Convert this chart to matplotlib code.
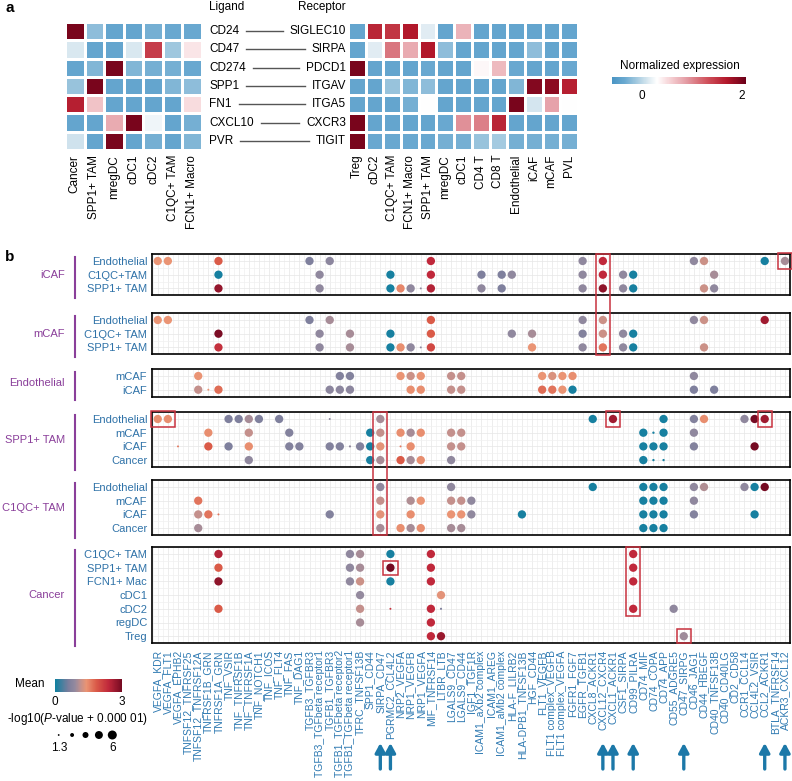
import matplotlib
matplotlib.use('Agg')
import matplotlib.pyplot as plt
import matplotlib.transforms as mtransforms
import numpy as np
from matplotlib.colors import LinearSegmentedColormap, Normalize
from matplotlib.cm import ScalarMappable
from matplotlib.patches import Rectangle
from matplotlib.lines import Line2D

plt.rcParams['font.family'] = 'Liberation Sans'
plt.rcParams['mathtext.fontset'] = 'custom'
plt.rcParams['mathtext.rm'] = 'Liberation Sans'
plt.rcParams['mathtext.it'] = 'Liberation Sans:italic'

W, H = 792, 781

# ---------------- panel a data ----------------
ligands = ['CD24', 'CD47', 'CD274', 'SPP1', 'FN1', 'CXCL10', 'PVR']
receptors = ['SIGLEC10', 'SIRPA', 'PDCD1', 'ITGAV', 'ITGA5', 'CXCR3', 'TIGIT']
ligand_cells = ['Cancer', 'SPP1+ TAM', 'mregDC', 'cDC1', 'cDC2', 'C1QC+ TAM', 'FCN1+ Macro']
receptor_cells = ['Treg', 'cDC2', 'C1QC+ TAM', 'FCN1+ Macro', 'SPP1+ TAM', 'mregDC', 'cDC1',
                  'CD4 T', 'CD8 T', 'Endothelial', 'iCAF', 'mCAF', 'PVL']

ligand_expr = [
    [2.0, -0.2, -0.4, -0.4, -0.3, -0.35, -0.35],
    [0.12, -0.4, -0.4, 0.12, 1.45, -0.12, 0.45],
    [-0.4, -0.25, 2.0, -0.25, -0.3, -0.3, -0.35],
    [-0.15, 2.0, -0.4, -0.4, -0.4, -0.25, -0.2],
    [1.65, 0.65, -0.4, -0.4, -0.4, -0.4, 0.5],
    [-0.4, -0.4, 0.8, 2.0, 0.22, -0.4, -0.3],
    [0.08, -0.4, 2.0, -0.4, -0.3, -0.4, -0.25],
]
receptor_expr = [
    [-0.4, 1.6, 1.5, 1.7, 0.15, -0.4, 0.75, -0.4, -0.4, -0.4, -0.4, -0.4, -0.4],
    [-0.4, 0.15, 1.1, 0.8, 1.7, -0.2, -0.4, -0.4, -0.4, -0.4, -0.2, -0.4, -0.4],
    [2.0, -0.4, -0.4, -0.4, -0.35, -0.4, -0.4, 0.35, 0.7, -0.35, -0.4, -0.4, -0.35],
    [-0.4, -0.4, -0.15, -0.25, -0.2, -0.4, -0.4, -0.4, -0.4, -0.25, 1.95, 1.9, 1.65],
    [-0.4, -0.4, -0.4, -0.3, 0.3, -0.4, -0.4, -0.4, -0.4, 2.0, 0.1, 0.85, 0.3],
    [2.0, -0.4, -0.4, -0.4, -0.4, -0.35, 0.95, 1.05, 1.6, -0.4, -0.4, -0.4, -0.4],
    [2.0, -0.35, -0.35, -0.35, -0.35, -0.3, -0.3, -0.15, -0.1, -0.3, -0.3, -0.3, -0.3],
]

# ---------------- panel b data ----------------
pairs = ['VEGFA_KDR', 'VEGFA_FLT1', 'VEGFA_EPHB2', 'TNFSF12_TNFRSF25', 'TNFSF12_TNFRSF12A',
         'TNFRSF1B_GRN', 'TNFRSF1A_GRN', 'TNF_VSIR', 'TNF_TNFRSF1B', 'TNF_TNFRSF1A', 'TNF_NOTCH1',
         'TNF_ICOS', 'TNF_FLT4', 'TNF_FAS', 'TNF_DAG1', 'TGFB3_TGFBR3', 'TGFB3_TGFbeta receptor1',
         'TGFB1_TGFBR3', 'TGFB1_TGFbeta receptor2', 'TGFB1_TGFbeta receptor1', 'TFRC_TNFSF13B',
         'SPP1_CD44', 'SIRPA_CD47', 'PGRMC2_CCL4L2', 'NRP2_VEGFA', 'NRP1_VEGFB', 'NRP1_VEGFA',
         'MIF_TNFRSF14', 'LTBR_LTB', 'LGALS9_CD47', 'LGALS9_CD44', 'IGF1_TGF1R', 'ICAM1_aXb2 complex',
         'ICAM1_AREG', 'ICAM1_aMb2 complex', 'HLA-F_LILRB2', 'HLA-DPB1_TNFSF13B', 'HGF_CD44',
         'FLT1_VEGFB', 'FLT1 complex_VEGFB', 'FLT1 complex_VEGFA', 'FGFR1_FGF7', 'EGFR_TGFB1',
         'CXCL8_ACKR1', 'CXCL12_CXCR4', 'CXCL1_ACKR1', 'CSF1_SIRPA', 'CD99_PILRA', 'CD74_MIF',
         'CD74_COPA', 'CD74_APP', 'CD55_ADGRE5', 'CD47_SIRPG', 'CD46_JAG1', 'CD44_HBEGF',
         'CD40_TNFSF13B', 'CD40_CD40LG', 'CD2_CD58', 'CCR1_CCL14', 'CCL4L2_VSIR', 'CCL2_ACKR1',
         'BTLA_TNFRSF14', 'ACKR3_CXCL12']

groups = ['iCAF', 'mCAF', 'Endothelial', 'SPP1+ TAM', 'C1QC+ TAM', 'Cancer']
group_rows = {
    'iCAF': ['Endothelial', 'C1QC+TAM', 'SPP1+ TAM'],
    'mCAF': ['Endothelial', 'C1QC+ TAM', 'SPP1+ TAM'],
    'Endothelial': ['mCAF', 'iCAF'],
    'SPP1+ TAM': ['Endothelial', 'mCAF', 'iCAF', 'Cancer'],
    'C1QC+ TAM': ['Endothelial', 'mCAF', 'iCAF', 'Cancer'],
    'Cancer': ['C1QC+ TAM', 'SPP1+ TAM', 'FCN1+ Mac', 'cDC1', 'cDC2', 'regDC', 'Treg'],
}

# (pair, mean, -log10(P + 1e-5)) per receiving row
dots = {
    'iCAF': {
        'Endothelial': [('VEGFA_KDR', 1.4, 5), ('VEGFA_FLT1', 1.4, 5), ('TNFRSF1A_GRN', 1.85, 5),
                        ('TGFB3_TGFBR3', 0.65, 5), ('TGFB1_TGFBR3', 0.8, 5), ('MIF_TNFRSF14', 2.4, 5),
                        ('EGFR_TGFB1', 0.85, 5), ('CXCL12_CXCR4', 2.4, 5), ('CD46_JAG1', 0.85, 5),
                        ('CD44_HBEGF', 1.2, 5), ('CCL2_ACKR1', 0.05, 5), ('ACKR3_CXCL12', 1.0, 5)],
        'C1QC+TAM': [('TNFRSF1A_GRN', 0.05, 5), ('TGFB3_TGFbeta receptor1', 0.85, 5),
                     ('PGRMC2_CCL4L2', 0.05, 5), ('MIF_TNFRSF14', 2.4, 5), ('ICAM1_aXb2 complex', 0.65, 5),
                     ('ICAM1_aMb2 complex', 0.65, 5), ('HLA-F_LILRB2', 0.85, 5), ('EGFR_TGFB1', 0.85, 5),
                     ('CXCL12_CXCR4', 2.4, 5), ('CSF1_SIRPA', 0.85, 5), ('CD99_PILRA', 0.05, 5),
                     ('CD40_TNFSF13B', 1.0, 5)],
        'SPP1+ TAM': [('TNFRSF1A_GRN', 2.75, 5), ('TGFB3_TGFbeta receptor1', 0.85, 5),
                      ('PGRMC2_CCL4L2', 0.05, 5), ('NRP2_VEGFA', 1.5, 5), ('NRP1_VEGFB', 0.85, 5),
                      ('NRP1_VEGFA', 0.85, 1.4), ('MIF_TNFRSF14', 2.5, 5), ('ICAM1_aXb2 complex', 0.85, 5),
                      ('ICAM1_aMb2 complex', 0.65, 5), ('EGFR_TGFB1', 0.85, 5), ('CXCL12_CXCR4', 2.8, 5),
                      ('CSF1_SIRPA', 0.85, 5), ('CD99_PILRA', 0.05, 5), ('CD44_HBEGF', 1.2, 5),
                      ('CD40_TNFSF13B', 0.85, 5)],
    },
    'mCAF': {
        'Endothelial': [('VEGFA_KDR', 1.4, 5), ('VEGFA_FLT1', 1.4, 5), ('TGFB3_TGFBR3', 0.65, 5),
                        ('TGFB1_TGFBR3', 1.0, 5), ('MIF_TNFRSF14', 1.85, 5), ('EGFR_TGFB1', 0.85, 5),
                        ('CXCL12_CXCR4', 1.2, 5), ('CD46_JAG1', 0.85, 5), ('CD44_HBEGF', 1.2, 5),
                        ('CCL2_ACKR1', 2.65, 5)],
        'C1QC+ TAM': [('TNFRSF1A_GRN', 2.95, 5), ('TGFB3_TGFbeta receptor1', 0.85, 5),
                      ('TGFB1_TGFbeta receptor1', 1.0, 5), ('PGRMC2_CCL4L2', 0.05, 5),
                      ('MIF_TNFRSF14', 1.85, 5), ('HLA-F_LILRB2', 0.85, 5), ('HGF_CD44', 1.0, 5),
                      ('EGFR_TGFB1', 0.7, 5), ('CXCL12_CXCR4', 1.2, 5), ('CSF1_SIRPA', 0.85, 5),
                      ('CD99_PILRA', 0.05, 5)],
        'SPP1+ TAM': [('TNFRSF1A_GRN', 2.3, 5), ('TGFB3_TGFbeta receptor1', 0.85, 5),
                      ('TGFB1_TGFbeta receptor1', 1.0, 5), ('PGRMC2_CCL4L2', 0.05, 5),
                      ('NRP2_VEGFA', 1.45, 5), ('NRP1_VEGFB', 0.85, 5), ('NRP1_VEGFA', 0.85, 1.4),
                      ('MIF_TNFRSF14', 2.05, 5), ('HGF_CD44', 1.4, 5), ('EGFR_TGFB1', 0.85, 5),
                      ('CXCL12_CXCR4', 1.65, 5), ('CSF1_SIRPA', 0.85, 5), ('CD99_PILRA', 0.05, 5),
                      ('CD44_HBEGF', 1.2, 5)],
    },
    'Endothelial': {
        'mCAF': [('TNFSF12_TNFRSF12A', 1.4, 5), ('TGFB1_TGFbeta receptor2', 0.7, 5),
                 ('TGFB1_TGFbeta receptor1', 0.7, 5), ('NRP2_VEGFA', 1.4, 5), ('NRP1_VEGFB', 1.2, 5),
                 ('NRP1_VEGFA', 1.4, 5), ('LGALS9_CD47', 1.15, 5), ('LGALS9_CD44', 1.15, 5),
                 ('FLT1_VEGFB', 1.4, 5), ('FLT1 complex_VEGFB', 1.3, 5), ('FLT1 complex_VEGFA', 1.4, 5),
                 ('FGFR1_FGF7', 1.45, 5), ('CD46_JAG1', 0.85, 5)],
        'iCAF': [('TNFSF12_TNFRSF12A', 1.15, 5), ('TNFRSF1B_GRN', 1.4, 1.4), ('TNFRSF1A_GRN', 1.7, 5),
                 ('TGFB1_TGFBR3', 0.8, 5), ('TGFB1_TGFbeta receptor2', 0.8, 5),
                 ('TGFB1_TGFbeta receptor1', 0.8, 5), ('NRP1_VEGFB', 1.45, 5), ('NRP1_VEGFA', 1.45, 5),
                 ('LGALS9_CD47', 1.15, 5), ('LGALS9_CD44', 1.15, 5), ('FLT1_VEGFB', 1.7, 5),
                 ('FLT1 complex_VEGFB', 1.65, 5), ('FLT1 complex_VEGFA', 1.4, 5), ('FGFR1_FGF7', 0.05, 5),
                 ('CD46_JAG1', 0.65, 5), ('CD40_TNFSF13B', 0.65, 5)],
    },
    'SPP1+ TAM': {
        'Endothelial': [('VEGFA_KDR', 1.45, 5), ('VEGFA_FLT1', 1.45, 5), ('TNF_VSIR', 0.65, 5),
                        ('TNF_TNFRSF1B', 0.65, 5), ('TNF_TNFRSF1A', 1.0, 5), ('TNF_NOTCH1', 0.65, 5),
                        ('TNF_FLT4', 0.65, 5), ('TGFB1_TGFBR3', 0.8, 1.4), ('SIRPA_CD47', 1.0, 5),
                        ('CXCL8_ACKR1', 0.05, 5), ('CXCL1_ACKR1', 2.65, 5), ('CD74_APP', 0.05, 5),
                        ('CD46_JAG1', 0.7, 5), ('CD44_HBEGF', 1.45, 5), ('CCR1_CCL14', 0.85, 5),
                        ('CCL4L2_VSIR', 3.0, 5), ('CCL2_ACKR1', 2.65, 5)],
        'mCAF': [('TNFRSF1B_GRN', 1.45, 5), ('TNF_TNFRSF1A', 1.15, 5), ('TNF_FAS', 0.7, 5),
                 ('SPP1_CD44', 0.05, 5), ('SIRPA_CD47', 1.15, 5), ('NRP2_VEGFA', 1.45, 5),
                 ('NRP1_VEGFB', 1.0, 5), ('NRP1_VEGFA', 1.45, 5), ('LGALS9_CD47', 1.15, 5),
                 ('LGALS9_CD44', 1.15, 5), ('CD74_MIF', 0.05, 5), ('CD74_COPA', 0.05, 1.6),
                 ('CD74_APP', 0.05, 5), ('CD46_JAG1', 0.85, 5)],
        'iCAF': [('VEGFA_EPHB2', 1.6, 1.4), ('TNFRSF1B_GRN', 1.85, 5), ('TNF_VSIR', 0.65, 5),
                 ('TNF_TNFRSF1A', 1.45, 5), ('TNF_FAS', 0.7, 5), ('TNF_DAG1', 0.7, 5),
                 ('TGFB1_TGFBR3', 0.7, 5), ('TGFB1_TGFbeta receptor2', 0.7, 5),
                 ('TGFB1_TGFbeta receptor1', 0.85, 1.5), ('TFRC_TNFSF13B', 0.7, 5), ('SPP1_CD44', 0.05, 5),
                 ('SIRPA_CD47', 1.35, 5), ('NRP2_VEGFA', 1.6, 1.4), ('NRP1_VEGFB', 1.45, 5),
                 ('LGALS9_CD47', 1.15, 5), ('LGALS9_CD44', 1.15, 5), ('CD74_MIF', 0.05, 5),
                 ('CD74_COPA', 0.05, 5), ('CD74_APP', 0.05, 5), ('CD46_JAG1', 0.7, 5),
                 ('CCL4L2_VSIR', 3.0, 5)],
        'Cancer': [('TNF_TNFRSF1A', 0.85, 5), ('SPP1_CD44', 0.05, 5), ('SIRPA_CD47', 1.0, 5),
                   ('NRP2_VEGFA', 1.85, 5), ('NRP1_VEGFB', 1.0, 5), ('NRP1_VEGFA', 1.45, 5),
                   ('LGALS9_CD47', 0.85, 5), ('CD74_MIF', 0.05, 5), ('CD74_COPA', 0.05, 1.6),
                   ('CD74_APP', 0.05, 1.6)],
    },
    'C1QC+ TAM': {
        'Endothelial': [('SIRPA_CD47', 0.85, 5), ('LGALS9_CD47', 0.85, 5), ('CXCL8_ACKR1', 0.05, 5),
                        ('CD74_MIF', 0.05, 5), ('CD74_COPA', 0.05, 5), ('CD74_APP', 0.05, 5),
                        ('CD46_JAG1', 0.85, 5), ('CD44_HBEGF', 1.05, 5), ('CCR1_CCL14', 0.85, 5),
                        ('CCL4L2_VSIR', 0.05, 5), ('CCL2_ACKR1', 3.0, 5)],
        'mCAF': [('TNFSF12_TNFRSF12A', 1.65, 5), ('SIRPA_CD47', 1.15, 5), ('NRP1_VEGFB', 1.05, 5),
                 ('NRP1_VEGFA', 1.4, 5), ('LGALS9_CD47', 1.15, 5), ('LGALS9_CD44', 1.15, 5),
                 ('IGF1_TGF1R', 0.85, 5), ('CD74_MIF', 0.05, 5), ('CD74_COPA', 0.05, 5),
                 ('CD74_APP', 0.05, 5), ('CD46_JAG1', 0.85, 5)],
        'iCAF': [('TNFSF12_TNFRSF12A', 1.15, 5), ('TNFRSF1B_GRN', 1.65, 5), ('TNFRSF1A_GRN', 1.65, 1.4),
                 ('TGFB1_TGFBR3', 0.7, 5), ('SIRPA_CD47', 1.35, 5), ('NRP1_VEGFB', 1.45, 5),
                 ('LGALS9_CD47', 1.4, 5), ('LGALS9_CD44', 1.4, 5), ('IGF1_TGF1R', 0.85, 5),
                 ('HLA-DPB1_TNFSF13B', 0.05, 5), ('CD74_MIF', 0.05, 5), ('CD74_COPA', 0.05, 5),
                 ('CD74_APP', 0.05, 5), ('CD46_JAG1', 0.7, 5), ('CCL4L2_VSIR', 0.05, 5)],
        'Cancer': [('TNFSF12_TNFRSF12A', 1.0, 5), ('SIRPA_CD47', 1.0, 5), ('NRP2_VEGFA', 1.45, 5),
                   ('NRP1_VEGFB', 1.0, 5), ('NRP1_VEGFA', 1.45, 5), ('LGALS9_CD47', 1.0, 5),
                   ('LGALS9_CD44', 1.0, 5), ('CD74_MIF', 0.05, 5), ('CD74_COPA', 0.05, 5),
                   ('CD74_APP', 0.05, 5)],
    },
    'Cancer': {
        'C1QC+ TAM': [('TNFRSF1A_GRN', 2.5, 5), ('TGFB1_TGFbeta receptor1', 0.85, 5),
                      ('TFRC_TNFSF13B', 1.0, 5), ('PGRMC2_CCL4L2', 0.05, 5), ('MIF_TNFRSF14', 2.4, 5),
                      ('CD99_PILRA', 2.4, 5)],
        'SPP1+ TAM': [('TNFRSF1A_GRN', 1.85, 5), ('TGFB1_TGFbeta receptor1', 0.85, 5),
                      ('TFRC_TNFSF13B', 1.0, 5), ('PGRMC2_CCL4L2', 3.0, 5), ('MIF_TNFRSF14', 2.4, 5),
                      ('CD99_PILRA', 2.4, 5)],
        'FCN1+ Mac': [('TNFRSF1A_GRN', 2.8, 5), ('TGFB1_TGFbeta receptor1', 0.85, 5),
                      ('TFRC_TNFSF13B', 1.2, 5), ('PGRMC2_CCL4L2', 0.05, 5), ('MIF_TNFRSF14', 2.4, 5),
                      ('CD99_PILRA', 2.4, 5)],
        'cDC1': [('TFRC_TNFSF13B', 0.9, 5), ('LTBR_LTB', 1.35, 5)],
        'cDC2': [('TNFRSF1A_GRN', 1.85, 5), ('TFRC_TNFSF13B', 1.15, 5), ('PGRMC2_CCL4L2', 2.3, 1.4),
                 ('MIF_TNFRSF14', 2.4, 5), ('LTBR_LTB', 0.65, 1.5), ('CD99_PILRA', 2.4, 5),
                 ('CD55_ADGRE5', 0.85, 5)],
        'regDC': [('TFRC_TNFSF13B', 1.0, 5), ('MIF_TNFRSF14', 2.4, 5)],
        'Treg': [('MIF_TNFRSF14', 2.4, 5), ('LTBR_LTB', 2.7, 5), ('CD47_SIRPG', 0.95, 5)],
    },
}

# red boxes: (first group, first row, last group, last row, first pair, last pair)
highlights = [
    ('iCAF', 'Endothelial', 'mCAF', 'SPP1+ TAM', 'CXCL12_CXCR4', 'CXCL12_CXCR4'),
    ('iCAF', 'Endothelial', 'iCAF', 'Endothelial', 'ACKR3_CXCL12', 'ACKR3_CXCL12'),
    ('SPP1+ TAM', 'Endothelial', 'SPP1+ TAM', 'Endothelial', 'VEGFA_KDR', 'VEGFA_FLT1'),
    ('SPP1+ TAM', 'Endothelial', 'C1QC+ TAM', 'Cancer', 'SIRPA_CD47', 'SIRPA_CD47'),
    ('SPP1+ TAM', 'Endothelial', 'SPP1+ TAM', 'Endothelial', 'CXCL1_ACKR1', 'CXCL1_ACKR1'),
    ('SPP1+ TAM', 'Endothelial', 'SPP1+ TAM', 'Endothelial', 'CCL2_ACKR1', 'CCL2_ACKR1'),
    ('Cancer', 'SPP1+ TAM', 'Cancer', 'SPP1+ TAM', 'PGRMC2_CCL4L2', 'PGRMC2_CCL4L2'),
    ('Cancer', 'C1QC+ TAM', 'Cancer', 'cDC2', 'CD99_PILRA', 'CD99_PILRA'),
    ('Cancer', 'Treg', 'Cancer', 'Treg', 'CD47_SIRPG', 'CD47_SIRPG'),
]
arrow_pairs = ['SIRPA_CD47', 'PGRMC2_CCL4L2', 'CXCL12_CXCR4', 'CXCL1_ACKR1', 'CD99_PILRA',
               'CD47_SIRPG', 'CCL2_ACKR1', 'ACKR3_CXCL12']

size_breaks = [1.3, 2.5, 3.7, 4.8, 6]


def px_axes(fig, x, y, w, h):
    return fig.add_axes([x / W, 1 - (y + h) / H, w / W, h / H])


def dot_size(v):
    d = np.interp(v, [1.3, 5, 6], [1.8, 8.3, 9.0])
    return (d * 0.72) ** 2


def main():
    fig = plt.figure(figsize=(W / 100, H / 100), dpi=100)
    fs = 8.5      # panel a + legends
    fs_row = 8.0  # row / group labels of panel b
    fs_x = 7.5    # pair labels

    expr_cmap = LinearSegmentedColormap.from_list('expr', [
        (0.0, '#4a95c4'), (0.093, '#6aa9d0'), (0.187, '#a6cbe0'), (0.28, '#e2edf3'),
        (0.336, '#ffffff'), (0.43, '#f6d3d6'), (0.56, '#e39aa2'), (0.71, '#d0525c'),
        (0.858, '#b2182b'), (1.0, '#6b0019')])
    vmin, vmax = -0.6, 2.08

    mean_cmap = LinearSegmentedColormap.from_list('mean', [
        (0.0, '#0f80a0'), (0.2, '#7b7e9d'), (0.3, '#958a9e'), (0.383, '#c3908c'),
        (0.467, '#ea9474'), (0.617, '#da5a48'), (0.8, '#c0283b'), (1.0, '#750a22')])

    # ---------- panel a ----------
    axL = px_axes(fig, 65, 22, 137, 128)
    axR = px_axes(fig, 348, 22, 230, 128)
    for ax, data, cells in [(axL, ligand_expr, ligand_cells), (axR, receptor_expr, receptor_cells)]:
        arr = np.array(data)
        ax.pcolormesh(arr, cmap=expr_cmap, vmin=vmin, vmax=vmax, edgecolors='white', linewidth=0.8)
        ax.set_xlim(0, arr.shape[1])
        ax.set_ylim(arr.shape[0], 0)
        ax.set_xticks(np.arange(arr.shape[1]) + 0.5)
        ax.set_xticklabels(cells, rotation=90, fontsize=fs)
        ax.set_yticks([])
        ax.tick_params(axis='x', length=0, pad=3.5)
        for s in ax.spines.values():
            s.set_visible(False)

    trans = mtransforms.blended_transform_factory(fig.transFigure, axL.transData)
    lig_txt, rec_txt = [], []
    for i in range(len(ligands)):
        lig_txt.append(fig.text(209 / W, i + 0.5, ligands[i], transform=trans, ha='left', va='center', fontsize=fs))
        rec_txt.append(fig.text(346 / W, i + 0.5, receptors[i], transform=trans, ha='right', va='center', fontsize=fs))
    fig.text(209 / W, 1 - 7 / H, 'Ligand', ha='left', va='center', fontsize=fs)
    fig.text(346 / W, 1 - 7 / H, 'Receptor', ha='right', va='center', fontsize=fs)

    cax = px_axes(fig, 612, 77, 134, 7)
    cb = fig.colorbar(ScalarMappable(Normalize(vmin, vmax), expr_cmap), cax=cax, orientation='horizontal')
    cb.set_ticks([0, 2])
    cb.outline.set_visible(False)
    cax.tick_params(length=0, labelsize=fs, pad=4)
    fig.text(680 / W, 1 - 66 / H, 'Normalized expression', ha='center', va='center', fontsize=fs)

    fig.text(5 / W, 1 - 8 / H, 'a', fontsize=11, fontweight='bold', va='center')
    fig.text(5 / W, 1 - 257 / H, 'b', fontsize=11, fontweight='bold', va='center')

    # ---------- panel b ----------
    row_color = '#2f72a8'
    tick_color = '#2f7ab2'
    purple = '#8a3f9a'
    panel_top = [254, 313, 369, 412, 480, 547]
    row_px, pad_px = 13.7, 7
    axes = {}
    for k, g in enumerate(groups):
        rows = group_rows[g]
        n = len(rows)
        h = (n - 1) * row_px + 2 * pad_px
        ax = px_axes(fig, 152, panel_top[k], 638, h)
        axes[g] = ax
        ax.set_xlim(-0.57, 62.45)
        ax.set_ylim(n - 1 + pad_px / row_px, -pad_px / row_px)
        ax.set_xticks(np.arange(len(pairs)))
        ax.set_xticks(np.arange(-0.5, len(pairs), 1), minor=True)
        ax.set_yticks(np.arange(n))
        ax.set_yticks(np.arange(-0.5, n, 1), minor=True)
        ax.set_yticklabels(rows, color=row_color, fontsize=fs_row)
        ax.tick_params(which='both', length=0)
        ax.tick_params(axis='y', pad=3.5)
        ax.grid(which='major', color='#e6e6e6', lw=0.5)
        ax.grid(which='minor', color='#f0f0f0', lw=0.5)
        ax.set_axisbelow(True)
        for s in ax.spines.values():
            s.set_linewidth(1.2)
        if g == groups[-1]:
            ax.set_xticklabels(pairs, rotation=90, color=tick_color, fontsize=fs_x)
            ax.tick_params(axis='x', pad=5)
        else:
            ax.tick_params(labelbottom=False)

        xs, ys, ms, ps = [], [], [], []
        for r in rows:
            for pair, m, p in dots[g].get(r, []):
                xs.append(pairs.index(pair))
                ys.append(rows.index(r))
                ms.append(m)
                ps.append(p)
        ax.scatter(xs, ys, s=dot_size(np.array(ps)), c=ms, cmap=mean_cmap, vmin=0, vmax=3,
                   edgecolors='none', zorder=3, clip_on=False)

        top_f = 1 - panel_top[k] / H
        bot_f = 1 - (panel_top[k] + h) / H
        fig.text(65 / W, (top_f + bot_f) / 2, g, ha='right', va='center', color=purple, fontsize=fs_row)
        fig.add_artist(Line2D([74.5 / W, 74.5 / W], [top_f - 3 / H, bot_f - 3 / H], color=purple, lw=1.5))

    # red boxes
    inv = fig.transFigure.inverted()
    for g0, r0, g1, r1, p0, p1 in highlights:
        ax0, ax1 = axes[g0], axes[g1]
        c0, c1 = pairs.index(p0), pairs.index(p1)
        ri0, ri1 = group_rows[g0].index(r0), group_rows[g1].index(r1)
        py = 0.55 if (g0 == g1 and ri0 == ri1 and g0 != 'Cancer') else 0.52
        tl = inv.transform(ax0.transData.transform((c0 - 0.7, ri0 - py)))
        br = inv.transform(ax1.transData.transform((c1 + 0.7, ri1 + py)))
        fig.add_artist(Rectangle((tl[0], br[1]), br[0] - tl[0], tl[1] - br[1], transform=fig.transFigure,
                                 fill=False, edgecolor='#c8323f', lw=1.1, zorder=10))

    # arrows under the key pairs
    axC = axes['Cancer']
    for p in arrow_pairs:
        c = pairs.index(p)
        xf = inv.transform(axC.transData.transform((c, 0)))[0]
        axC.annotate('', xy=(xf, 1 - 743 / H), xytext=(xf, 1 - 769 / H), xycoords='figure fraction',
                     textcoords='figure fraction', annotation_clip=False,
                     arrowprops=dict(arrowstyle='-|>,head_width=0.3,head_length=0.55', lw=2.4,
                                     color='#1c78a8', mutation_scale=10, shrinkA=0, shrinkB=0))

    # legends for panel b
    mcax = px_axes(fig, 55, 679, 67, 13)
    mcb = fig.colorbar(ScalarMappable(Normalize(0, 3), mean_cmap), cax=mcax, orientation='horizontal')
    mcb.set_ticks([0, 3])
    mcb.outline.set_visible(False)
    mcax.tick_params(length=0, labelsize=fs, pad=3)
    fig.text(45 / W, 1 - 684 / H, 'Mean', ha='right', va='center', fontsize=fs)
    fig.text(77 / W, 1 - 719 / H, r'-log10($\it{P}$-value + 0.000 01)', ha='center', va='center', fontsize=fs)
    sax = px_axes(fig, 52, 728, 67, 14)
    sax.scatter(np.arange(len(size_breaks)), np.zeros(len(size_breaks)), s=dot_size(np.array(size_breaks)),
                color='black', edgecolors='none')
    sax.set_xlim(-0.5, len(size_breaks) - 0.5)
    sax.set_ylim(-1, 1)
    sax.axis('off')
    fig.text(59 / W, 1 - 748 / H, '1.3', ha='center', va='center', fontsize=fs)
    fig.text(113 / W, 1 - 748 / H, '6', ha='center', va='center', fontsize=fs)

    # ligand-receptor connectors
    fig.canvas.draw()
    renderer = fig.canvas.get_renderer()
    for i in range(len(ligands)):
        b0 = lig_txt[i].get_window_extent(renderer)
        b1 = rec_txt[i].get_window_extent(renderer)
        yc = (b0.y0 + b0.y1) / 2
        p0 = inv.transform((b0.x1 + 7, yc))
        p1 = inv.transform((b1.x0 - 7, yc))
        fig.add_artist(Line2D([p0[0], p1[0]], [p0[1], p1[1]], color='#555555', lw=1.0))

    fig.savefig('out.png', dpi=100)
    plt.close()


if __name__ == '__main__':
    main()
